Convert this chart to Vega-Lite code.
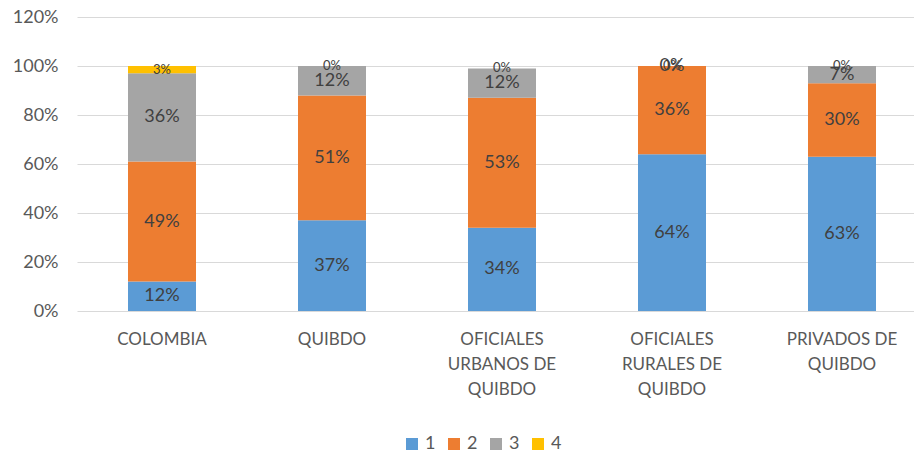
{
  "$schema": "https://vega.github.io/schema/vega-lite/v6.json",
  "autosize": {"type": "none"},
  "width": 850,
  "height": 294,
  "padding": {"left": 77, "top": 17, "right": 0, "bottom": 141},
  "background": "white",
  "config": {
    "view": {"stroke": null},
    "font": "Lato",
    "axis": {"labelFont": "Lato", "labelColor": "#595959", "labelFontSize": 18}
  },
  "data": {
    "values": [
      {"cat": "COLOMBIA", "serie": "1", "value": 0.12},
      {"cat": "COLOMBIA", "serie": "2", "value": 0.49},
      {"cat": "COLOMBIA", "serie": "3", "value": 0.36},
      {"cat": "COLOMBIA", "serie": "4", "value": 0.03},
      {"cat": "QUIBDO", "serie": "1", "value": 0.37},
      {"cat": "QUIBDO", "serie": "2", "value": 0.51},
      {"cat": "QUIBDO", "serie": "3", "value": 0.12},
      {"cat": "QUIBDO", "serie": "4", "value": 0.0},
      {"cat": "OFICIALES URBANOS DE QUIBDO", "serie": "1", "value": 0.34},
      {"cat": "OFICIALES URBANOS DE QUIBDO", "serie": "2", "value": 0.53},
      {"cat": "OFICIALES URBANOS DE QUIBDO", "serie": "3", "value": 0.12},
      {"cat": "OFICIALES URBANOS DE QUIBDO", "serie": "4", "value": 0.0},
      {"cat": "OFICIALES RURALES DE QUIBDO", "serie": "1", "value": 0.64},
      {"cat": "OFICIALES RURALES DE QUIBDO", "serie": "2", "value": 0.36},
      {"cat": "OFICIALES RURALES DE QUIBDO", "serie": "3", "value": 0.0},
      {"cat": "OFICIALES RURALES DE QUIBDO", "serie": "4", "value": 0.0},
      {"cat": "PRIVADOS DE QUIBDO", "serie": "1", "value": 0.63},
      {"cat": "PRIVADOS DE QUIBDO", "serie": "2", "value": 0.30},
      {"cat": "PRIVADOS DE QUIBDO", "serie": "3", "value": 0.07},
      {"cat": "PRIVADOS DE QUIBDO", "serie": "4", "value": 0.0}
    ]
  },
  "transform": [
    {"stack": "value", "groupby": ["cat"], "sort": [{"field": "serie", "order": "ascending"}], "as": ["v0", "v1"]},
    {"calculate": "(datum.v0 + datum.v1) / 2", "as": "mid"}
  ],
  "encoding": {
    "x": {
      "field": "cat", "type": "nominal", "sort": null, "title": null,
      "scale": {"paddingInner": 0.6, "paddingOuter": 0.3},
      "axis": {
        "labelAngle": 0, "domain": false, "ticks": false, "labelPadding": 20,
        "labelLineHeight": 25, "labelFontSize": 17,
        "labelExpr": "datum.label == 'OFICIALES URBANOS DE QUIBDO' ? ['OFICIALES', 'URBANOS DE', 'QUIBDO'] : datum.label == 'OFICIALES RURALES DE QUIBDO' ? ['OFICIALES', 'RURALES DE', 'QUIBDO'] : datum.label == 'PRIVADOS DE QUIBDO' ? ['PRIVADOS DE', 'QUIBDO'] : datum.label"
      }
    }
  },
  "layer": [
    {
      "mark": {"type": "bar"},
      "encoding": {
        "y": {
          "field": "v0", "type": "quantitative", "title": null,
          "scale": {"domain": [0, 1.2]},
          "axis": {
            "values": [0, 0.2, 0.4, 0.6, 0.8, 1.0, 1.2], "format": ".0%",
            "domain": false, "ticks": false, "labelPadding": 19,
            "gridColor": "#D9D9D9", "gridWidth": 1
          }
        },
        "y2": {"field": "v1"},
        "color": {
          "field": "serie", "type": "nominal", "title": null,
          "scale": {"domain": ["1", "2", "3", "4"], "range": ["#5B9BD5", "#ED7D31", "#A5A5A5", "#FFC000"]},
          "legend": {
            "orient": "none", "direction": "horizontal", "columns": 4,
            "legendX": 326, "legendY": 418, "padding": 0,
            "symbolType": "square", "symbolSize": 144, "symbolStrokeWidth": 0,
            "labelFontSize": 18, "labelColor": "#595959", "labelFont": "Lato",
            "labelOffset": 4, "columnPadding": 9
          }
        }
      }
    },
    {
      "mark": {"type": "text", "color": "#404040", "font": "Lato"},
      "encoding": {
        "y": {"field": "mid", "type": "quantitative"},
        "text": {"field": "value", "type": "quantitative", "format": ".0%"},
        "size": {
          "condition": {"test": "datum.serie == '4'", "value": 13},
          "value": 18
        }
      }
    }
  ]
}
